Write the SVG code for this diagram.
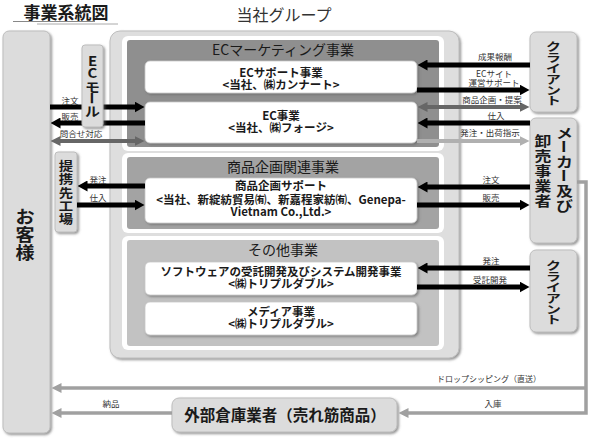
<svg xmlns="http://www.w3.org/2000/svg" width="590" height="438" viewBox="0 0 590 438">
<style>
  text { font-family: "Liberation Sans", "Noto Sans CJK JP", sans-serif; fill: #1a1a1a; }
  .jp { font-family: "Noto Sans CJK JP", "Liberation Sans", sans-serif; }
  .box { fill: #dcdcdc; stroke: #bdbdbd; stroke-width: 1; filter: url(#sh); }
  .inner { fill: #fff; stroke: #c8c8c8; stroke-width: 0.8; filter: url(#sh); }
  .secw { fill: #fff; }
  .sectitle { font-size: 14px; text-anchor: middle; }
  .bt { font-size: 11.5px; font-weight: bold; text-anchor: middle; }
  .lbl { font-size: 8.5px; fill: #333; text-anchor: middle; }
  .vt { font-weight: bold; text-anchor: middle; dominant-baseline: central; }
  .blk { stroke: #000; stroke-width: 5; fill: none; }
  .dg { stroke: #666; stroke-width: 4; fill: none; }
  .lg { stroke: #b0b0b0; stroke-width: 4; fill: none; }
  .gl { stroke: #a0a0a0; stroke-width: 3.5; fill: none; }
</style>
<defs>
  <filter id="sh" x="-10%" y="-10%" width="130%" height="130%">
    <feDropShadow dx="1.5" dy="1.5" stdDeviation="0.8" flood-color="#666" flood-opacity="0.7"/>
  </filter>
  <marker id="aB" viewBox="0 0 10 11" refX="0.5" refY="5.5" markerWidth="10" markerHeight="11" markerUnits="userSpaceOnUse" orient="auto-start-reverse">
    <path d="M0,0 L10,5.5 L0,11 z" fill="#000"/>
  </marker>
  <marker id="aD" viewBox="0 0 10 10" refX="0.5" refY="5" markerWidth="10" markerHeight="10" markerUnits="userSpaceOnUse" orient="auto-start-reverse">
    <path d="M0,0 L10,5 L0,10 z" fill="#666"/>
  </marker>
  <marker id="aL" viewBox="0 0 10 10" refX="0.5" refY="5" markerWidth="10" markerHeight="10" markerUnits="userSpaceOnUse" orient="auto-start-reverse">
    <path d="M0,0 L10,5 L0,10 z" fill="#b0b0b0"/>
  </marker>
  <marker id="aG" viewBox="0 0 10 10" refX="0.5" refY="5" markerWidth="10" markerHeight="10" markerUnits="userSpaceOnUse" orient="auto-start-reverse">
    <path d="M0,0 L10,5 L0,10 z" fill="#a0a0a0"/>
  </marker>
</defs>

<rect x="0" y="0" width="590" height="438" fill="#fff"/>

<g id="title">
  <text class="jp" x="66" y="19" font-size="17" font-weight="bold" text-anchor="middle">事業系統図</text>
  <line x1="13" y1="21.5" x2="95" y2="21.5" stroke="#888" stroke-width="1"/>
  <line x1="37" y1="24" x2="118" y2="24" stroke="#aaa" stroke-width="1"/>
</g>

<g id="group-label">
  <text class="jp" x="284" y="20.5" font-size="16" text-anchor="middle" style="fill:#333">当社グループ</text>
</g>

<g id="customer">
  <rect class="box" x="3" y="31" width="47" height="402" rx="6"/>
  <g transform="translate(25 0) scale(1.12 1)">
    <text class="jp vt" font-size="17" x="0" y="215">お</text>
    <text class="jp vt" font-size="17" x="0" y="233">客</text>
    <text class="jp vt" font-size="17" x="0" y="251">様</text>
  </g>
</g>

<g id="group">
  <rect class="box" x="110" y="31" width="349" height="327" rx="10" style="fill:#dedede"/>
</g>

<g id="sec-ec">
  <rect class="secw" x="122" y="36" width="322" height="115" rx="6"/>
  <rect x="127" y="40" width="312" height="107" rx="3" fill="#8f8f8f"/>
  <text class="jp sectitle" x="283" y="54.5">ECマーケティング事業</text>
</g>
<g id="ec-support">
  <rect class="inner" x="145" y="61" width="272" height="32" rx="5"/>
  <text class="jp bt" x="281" y="76.5">ECサポート事業</text>
  <text class="jp bt" x="281" y="88.5">&lt;当社、㈱カンナート&gt;</text>
</g>
<g id="ec-business">
  <rect class="inner" x="145" y="102" width="272" height="41" rx="5"/>
  <text class="jp bt" x="281" y="120">EC事業</text>
  <text class="jp bt" x="281" y="132">&lt;当社、㈱フォージ&gt;</text>
</g>

<g id="sec-product">
  <rect class="secw" x="122" y="153" width="322" height="80" rx="6"/>
  <rect x="127" y="157" width="312" height="72" rx="3" fill="#a3a3a3"/>
  <text class="jp sectitle" x="283" y="172">商品企画関連事業</text>
</g>
<g id="product-support">
  <rect class="inner" x="145" y="178" width="272" height="45" rx="5"/>
  <text class="jp bt" x="281" y="190">商品企画サポート</text>
  <text class="jp bt" x="281" y="203.5">&lt;当社、新綻紡貿易㈲、新嘉程家紡㈲、Genepa-</text>
  <text class="jp bt" x="281" y="216">Vietnam Co.,Ltd.&gt;</text>
</g>

<g id="sec-other">
  <rect class="secw" x="122" y="236" width="322" height="114" rx="6"/>
  <rect x="127" y="240" width="312" height="106" rx="3" fill="#c2c2c2"/>
  <text class="jp sectitle" x="283" y="255">その他事業</text>
</g>
<g id="software">
  <rect class="inner" x="145" y="262" width="272" height="33" rx="5"/>
  <text class="jp bt" x="281" y="276">ソフトウェアの受託開発及びシステム開発事業</text>
  <text class="jp bt" x="281" y="288">&lt;㈱トリプルダブル&gt;</text>
</g>
<g id="media">
  <rect class="inner" x="145" y="302" width="272" height="33" rx="5"/>
  <text class="jp bt" x="281" y="316">メディア事業</text>
  <text class="jp bt" x="281" y="328">&lt;㈱トリプルダブル&gt;</text>
</g>

<g id="client1">
  <rect class="box" x="530" y="32" width="47" height="80" rx="6"/>
  <g transform="translate(553.5 0) scale(1.35 1)">
    <text class="jp vt" font-size="11" x="0" y="46">ク</text>
    <text class="jp vt" font-size="11" x="0" y="57">ラ</text>
    <text class="jp vt" font-size="11" x="0" y="68">イ</text>
    <text class="jp vt" font-size="11" x="0" y="79">ア</text>
    <text class="jp vt" font-size="11" x="0" y="90">ン</text>
    <text class="jp vt" font-size="11" x="0" y="100.5">ト</text>
  </g>
</g>

<g id="maker">
  <rect class="box" x="530" y="118" width="47" height="125" rx="6"/>
  <g transform="translate(564.5 0) scale(1.25 1)">
    <text class="jp vt" font-size="13.5" x="0" y="132">メ</text>
    <text class="jp vt" font-size="13.5" x="0" y="146.5" transform="rotate(90 0 146.5)">ー</text>
    <text class="jp vt" font-size="13.5" x="0" y="161">カ</text>
    <text class="jp vt" font-size="13.5" x="0" y="175.5" transform="rotate(90 0 175.5)">ー</text>
    <text class="jp vt" font-size="13.5" x="0" y="190">及</text>
    <text class="jp vt" font-size="13.5" x="0" y="204.5">び</text>
  </g>
  <g transform="translate(543 0) scale(1.25 1)">
    <text class="jp vt" font-size="13.5" x="0" y="139.5">卸</text>
    <text class="jp vt" font-size="13.5" x="0" y="154.5">売</text>
    <text class="jp vt" font-size="13.5" x="0" y="169.5">事</text>
    <text class="jp vt" font-size="13.5" x="0" y="184.5">業</text>
    <text class="jp vt" font-size="13.5" x="0" y="199.5">者</text>
  </g>
</g>

<g id="client2">
  <rect class="box" x="530" y="250" width="47" height="82" rx="6"/>
  <g transform="translate(553.5 0) scale(1.35 1)">
    <text class="jp vt" font-size="11" x="0" y="265.5">ク</text>
    <text class="jp vt" font-size="11" x="0" y="276.5">ラ</text>
    <text class="jp vt" font-size="11" x="0" y="287.5">イ</text>
    <text class="jp vt" font-size="11" x="0" y="298.5">ア</text>
    <text class="jp vt" font-size="11" x="0" y="309.5">ン</text>
    <text class="jp vt" font-size="11" x="0" y="319.5">ト</text>
  </g>
</g>

<g id="factory">
  <rect class="box" x="55" y="152" width="22" height="80" rx="3"/>
  <g transform="translate(66 0) scale(1.15 1)">
    <text class="jp vt" font-size="12.5" x="0" y="165">提</text>
    <text class="jp vt" font-size="12.5" x="0" y="178.5">携</text>
    <text class="jp vt" font-size="12.5" x="0" y="192">先</text>
    <text class="jp vt" font-size="12.5" x="0" y="205">工</text>
    <text class="jp vt" font-size="12.5" x="0" y="218">場</text>
  </g>
</g>

<g id="warehouse">
  <rect class="box" x="172" y="398" width="225" height="34" rx="7"/>
  <text class="jp" x="285" y="421" font-size="15.5" font-weight="bold" text-anchor="middle">外部倉庫業者（売れ筋商品）</text>
</g>

<g id="connectors">
  <path class="blk" d="M50,107 H135" marker-end="url(#aB)"/>
  <path class="blk" d="M145,123 H60" marker-end="url(#aB)"/>
  <path class="dg" d="M60,141 H135" marker-start="url(#aD)" marker-end="url(#aD)"/>
  <path class="blk" d="M530,65 H427" marker-end="url(#aB)"/>
  <path class="blk" d="M417,90 H520" marker-end="url(#aB)"/>
  <path class="dg" d="M427,107 H520" marker-start="url(#aD)" marker-end="url(#aD)"/>
  <path class="blk" d="M530,123 H427" marker-end="url(#aB)"/>
  <path class="lg" d="M417,141 H520" marker-end="url(#aL)"/>
  <path class="blk" d="M145,186 H87" marker-end="url(#aB)"/>
  <path class="blk" d="M77,205 H135" marker-end="url(#aB)"/>
  <path class="blk" d="M530,187 H427" marker-end="url(#aB)"/>
  <path class="blk" d="M417,205 H520" marker-end="url(#aB)"/>
  <path class="blk" d="M530,268 H427" marker-end="url(#aB)"/>
  <path class="blk" d="M417,287 H520" marker-end="url(#aB)"/>
  <path class="gl" d="M577,182 H586 V413 H408" marker-end="url(#aG)"/>
  <path class="gl" d="M586,388 H61" marker-end="url(#aG)"/>
  <path class="gl" d="M172,413 H61" marker-end="url(#aG)"/>

  <text class="jp lbl" x="70" y="103.5">注文</text>
  <text class="jp lbl" x="70" y="119.5">販売</text>
  <text class="jp lbl" x="81" y="136.5">問合せ対応</text>
  <text class="jp lbl" x="495" y="60">成果報酬</text>
  <text class="jp lbl" x="494" y="76.5">ECサイト</text>
  <text class="jp lbl" x="494" y="86">運営サポート</text>
  <text class="jp lbl" x="492" y="103">商品企画・提案</text>
  <text class="jp lbl" x="496" y="119">仕入</text>
  <text class="jp lbl" x="490" y="136">発注・出荷指示</text>
  <text class="jp lbl" x="98" y="182.5">発注</text>
  <text class="jp lbl" x="98" y="200.5">仕入</text>
  <text class="jp lbl" x="491" y="182.5">注文</text>
  <text class="jp lbl" x="491" y="200.5">販売</text>
  <text class="jp lbl" x="491" y="263.5">発注</text>
  <text class="jp lbl" x="490" y="282.5">受託開発</text>
  <text class="jp lbl" x="489" y="382" style="font-size:8px">ドロップシッピング（直送）</text>
  <text class="jp lbl" x="493" y="407">入庫</text>
  <text class="jp lbl" x="111" y="407">納品</text>
</g>

<g id="ecmall">
  <rect class="box" x="82" y="45" width="21" height="82" rx="3"/>
  <g transform="translate(92.5 0) scale(1.15 1)">
    <text class="jp vt" font-size="13" x="0" y="60">E</text>
    <text class="jp vt" font-size="13" x="0" y="72.5">C</text>
    <text class="jp vt" font-size="13" x="0" y="86">モ</text>
    <text class="jp vt" font-size="13" x="0" y="98" transform="rotate(90 0 98)">ー</text>
    <text class="jp vt" font-size="13" x="0" y="110">ル</text>
  </g>
</g>
</svg>
